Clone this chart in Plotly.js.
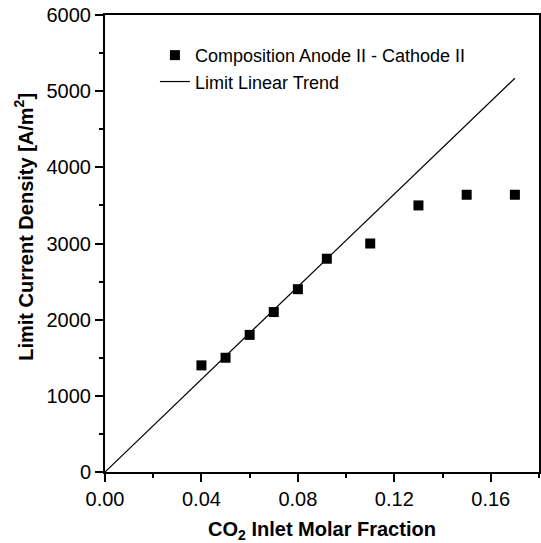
<!DOCTYPE html>
<html><head><meta charset="utf-8">
<script src="https://cdn.plot.ly/plotly-3.0.1.min.js"></script>
<style>body{margin:0;padding:0;background:#fff}#chart{width:541px;height:543px}</style>
</head><body><div id="chart"></div>
<script>
// Measured data
const co2Fraction = [0.04, 0.05, 0.06, 0.07, 0.08, 0.092, 0.11, 0.13, 0.15, 0.17];
const limitCurrent = [1400, 1500, 1800, 2100, 2400, 2800, 3000, 3500, 3640, 3640];
const trendX = [0, 0.17];
const trendY = [0, 5170];
const seriesNames = ['Composition Anode II - Cathode II', 'Limit Linear Trend'];

const traces = [
  {x: co2Fraction, y: limitCurrent, type: 'scatter', mode: 'markers', name: seriesNames[0],
   marker: {symbol: 'square', size: 10, color: '#000'}},
  {x: trendX, y: trendY, type: 'scatter', mode: 'lines', name: seriesNames[1],
   line: {color: '#000', width: 1.2}}
];

const FONT = 'Liberation Sans, Arial, sans-serif';
const axisCommon = {
  showgrid: false, zeroline: false, showline: true, linecolor: '#000', linewidth: 2,
  mirror: true, ticks: 'outside', ticklen: 8, tickwidth: 2, tickcolor: '#000',
  tickfont: {family: FONT, size: 20, color: '#000'}
};

const layout = {
  width: 541, height: 543,
  margin: {l: 105, r: 2, t: 15, b: 71},
  paper_bgcolor: '#fff', plot_bgcolor: '#fff',
  showlegend: true,
  legend: {x: 0.115, y: 0.952, xanchor: 'left', yanchor: 'top', bgcolor: 'rgba(0,0,0,0)',
           tracegroupgap: 0, font: {family: FONT, size: 18, color: '#000'}},
  xaxis: Object.assign({}, axisCommon, {
    range: [0, 0.18], tickvals: [0, 0.04, 0.08, 0.12, 0.16], tickformat: '.2f',
    minor: {dtick: 0.02, tick0: 0, ticks: 'outside', ticklen: 4, tickwidth: 2, tickcolor: '#000'},
    title: {text: 'CO<sub>2</sub> Inlet Molar Fraction', standoff: 16,
            font: {family: FONT, size: 20, color: '#000', weight: 'bold'}}
  }),
  yaxis: Object.assign({}, axisCommon, {
    range: [0, 6000], dtick: 1000, tick0: 0,
    minor: {dtick: 500, tick0: 0, ticks: 'outside', ticklen: 4, tickwidth: 2, tickcolor: '#000'},
    title: {text: '&nbsp;&nbsp;&nbsp;&nbsp;&nbsp;&nbsp;Limit Current Density [A/m<sup>2</sup>]', standoff: 8,
            font: {family: FONT, size: 20, color: '#000', weight: 'bold'}}
  })
};

Plotly.newPlot('chart', traces, layout, {displayModeBar: false, staticPlot: true});
</script></body></html>
